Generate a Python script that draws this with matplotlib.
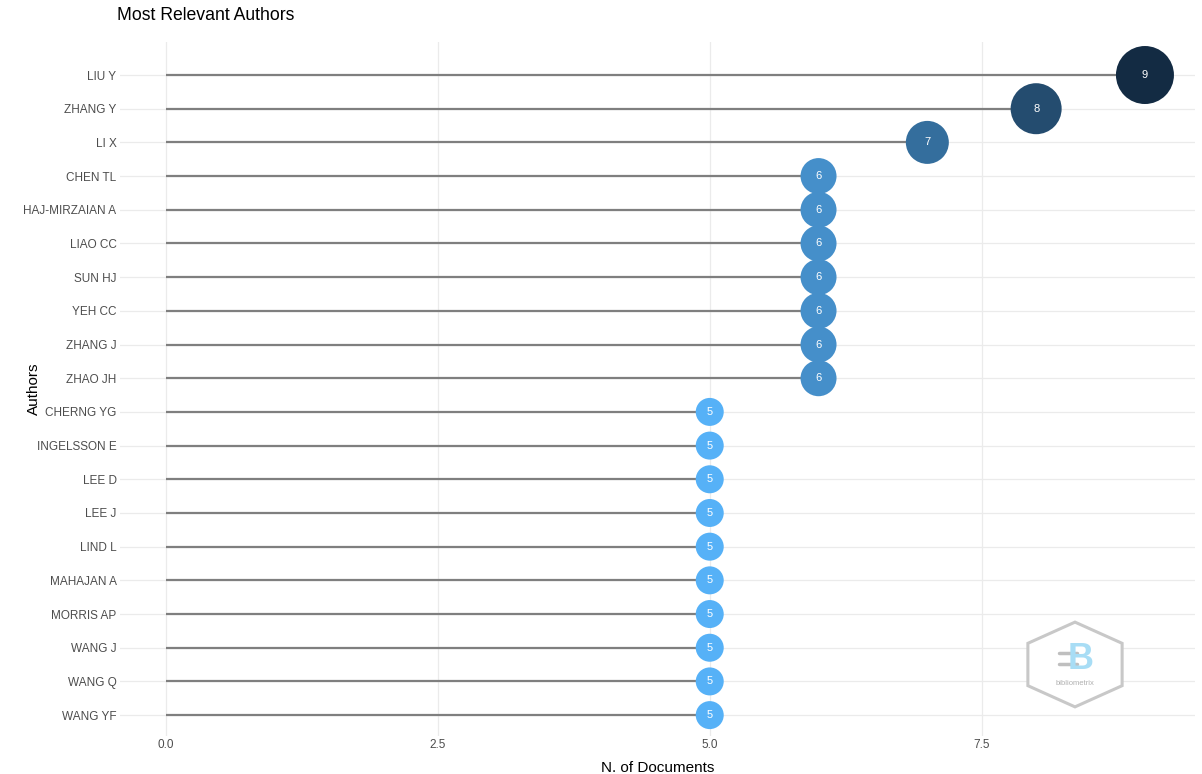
import matplotlib.pyplot as plt
import matplotlib.patches as mpatches
from matplotlib.colors import LinearSegmentedColormap

plt.rcParams['font.family'] = ['Liberation Sans', 'DejaVu Sans']

# Data
authors = ['LIU Y', 'ZHANG Y', 'LI X', 'CHEN TL', 'HAJ-MIRZAIAN A', 'LIAO CC',
           'SUN HJ', 'YEH CC', 'ZHANG J', 'ZHAO JH', 'CHERNG YG', 'INGELSSON E',
           'LEE D', 'LEE J', 'LIND L', 'MAHAJAN A', 'MORRIS AP', 'WANG J',
           'WANG Q', 'WANG YF']
n_docs = [9, 8, 7, 6, 6, 6, 6, 6, 6, 6, 5, 5, 5, 5, 5, 5, 5, 5, 5, 5]
x_ticks = [0.0, 2.5, 5.0, 7.5]

# ggplot-style continuous blue gradient
cmap = LinearSegmentedColormap.from_list('gg', ['#56B1F7', '#132B43'])
lo, hi = min(n_docs), max(n_docs)

fig = plt.figure(figsize=(12.02, 7.74), dpi=100)
ax = fig.add_axes([120 / 1202, 1 - 736 / 774, (1195 - 120) / 1202, (736 - 42) / 774])

ypos = list(range(len(authors)))[::-1]

for y, v in zip(ypos, n_docs):
    ax.plot([0, v], [y, y], color='#7F7F7F', lw=1.6, zorder=2, solid_capstyle='butt')

# marker diameter in px grows with value
diam = {5: 28, 6: 36, 7: 43, 8: 51, 9: 58}
sizes = [(diam[v] * 0.72) ** 2 for v in n_docs]
colors = [cmap((v - lo) / (hi - lo)) for v in n_docs]
ax.scatter(n_docs, ypos, s=sizes, c=colors, zorder=3, linewidths=0)
for y, v in zip(ypos, n_docs):
    ax.text(v, y, str(v), color='white', ha='center', va='center', fontsize=8, zorder=4)

ax.set_xlim(-0.42, 9.46)
ax.set_ylim(-0.62, len(authors) - 1 + 0.98)
ax.set_xticks(x_ticks)
ax.set_xticklabels([f'{t:.1f}' for t in x_ticks])
ax.set_yticks(ypos)
ax.set_yticklabels(authors)
ax.tick_params(axis='both', length=0, colors='#4D4D4D', labelsize=8.5)
ax.tick_params(axis='x', pad=2.2)
ax.tick_params(axis='y', pad=2.5)
ax.grid(True, color='#EBEBEB', lw=0.9, zorder=0)
ax.set_axisbelow(True)
for sp in ax.spines.values():
    sp.set_visible(False)

ax.set_xlabel('N. of Documents', fontsize=11)
ax.set_ylabel('Authors', fontsize=11)
ax.xaxis.set_label_coords(0.5, -0.036)
ax.yaxis.set_label_coords(-0.0735, 0.5)
fig.text(117 / 1202, 1 - 15 / 774, 'Most Relevant Authors', fontsize=12.7, va='center', ha='left')

# bibliometrix logo watermark
lax = fig.add_axes([1026 / 1202, 1 - 709 / 774, 98 / 1202, 89 / 774])
lax.set_xlim(-1.04, 1.04)
lax.set_ylim(-1.05, 1.05)
lax.axis('off')
hex_pts = [(0, 1), (1, 0.5), (1, -0.5), (0, -1), (-1, -0.5), (-1, 0.5)]
lax.add_patch(mpatches.Polygon(hex_pts, closed=True, facecolor='white',
                               edgecolor='#C8C8C8', lw=2.2))
lax.text(0.12, 0.12, 'B', fontsize=26, color='#A8DDF5', ha='center', va='center',
         fontweight='bold')
for yy in (0.28, 0.02):
    lax.plot([-0.35, 0.05], [yy, yy], color='#BFBFBF', lw=2.5, solid_capstyle='round')
lax.text(0.0, -0.44, 'bibliometrix', fontsize=5.5, color='#B0B0B0', ha='center', va='center')

fig.savefig('out.png', dpi=100)
